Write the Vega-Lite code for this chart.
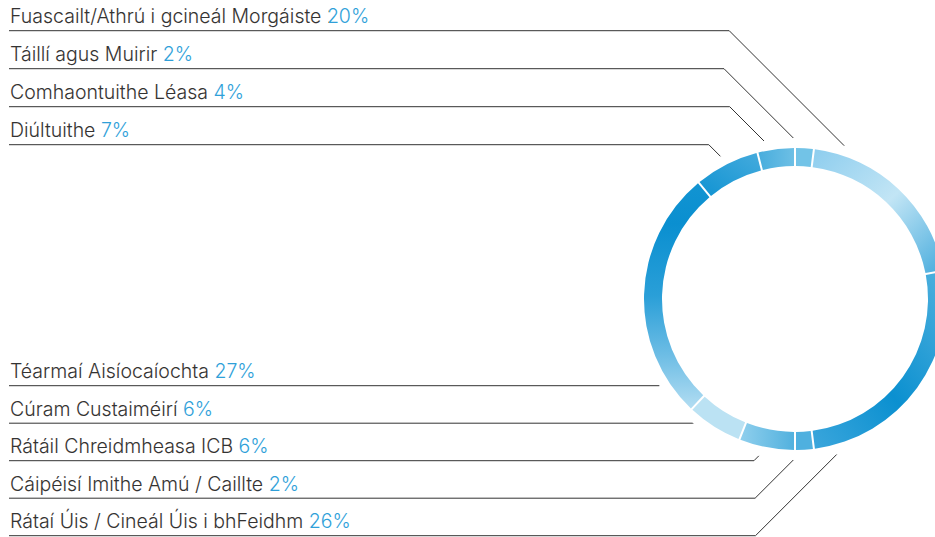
{
  "$schema": "https://vega.github.io/schema/vega-lite/v6.json",
  "width": 935,
  "height": 537,
  "autosize": {"type": "none"},
  "padding": 0,
  "background": "white",
  "config": {"view": {"stroke": null}},
  "data": {"values": [
    {"label": "Táillí agus Muirir", "pct": 2, "ring": 1, "row": 2, "anchor": 359.4},
    {"label": "Fuascailt/Athrú i gcineál Morgáiste", "pct": 20, "ring": 2, "row": 1, "anchor": 17.8},
    {"label": "Rátaí Úis / Cineál Úis i bhFeidhm", "pct": 26, "ring": 3, "row": 9, "anchor": 165},
    {"label": "Cáipéisí Imithe Amú / Caillte", "pct": 2, "ring": 4, "row": 8, "anchor": 180.6},
    {"label": "Rátáil Chreidmheasa ICB", "pct": 6, "ring": 5, "row": 7, "anchor": 193},
    {"label": "Cúram Custaiméirí", "pct": 6, "ring": 6, "row": 6, "anchor": 219.2},
    {"label": "Téarmaí Aisíocaíochta", "pct": 27, "ring": 7, "row": 5, "anchor": 237.4},
    {"label": "Diúltuithe", "pct": 7, "ring": 8, "row": 4, "anchor": 332.4},
    {"label": "Comhaontuithe Léasa", "pct": 4, "ring": 9, "row": 3, "anchor": 348.9}
  ]},
  "transform": [
    {"stack": "pct", "groupby": [], "sort": [{"field": "ring", "order": "ascending"}], "as": ["t0", "t1"]},
    {"calculate": "datum.label + ' ' + datum.pct + '%'", "as": "full"},
    {"calculate": "datum.row <= 4 ? 268.3 - 38 * (datum.row - 1) : -86.7 - 37.5 * (datum.row - 5)", "as": "ly"},
    {"calculate": "161 * sin(datum.anchor * PI / 180)", "as": "ex"},
    {"calculate": "161 * cos(datum.anchor * PI / 180)", "as": "ey"},
    {"calculate": "datum.ex - abs(datum.ly - datum.ey)", "as": "bx"}
  ],
  "layer": [
    {
      "transform": [{"filter": "datum.ring == 1"}],
      "mark": {"type": "arc", "outerRadius": 151, "innerRadius": 133, "padAngle": 0.01, "fill": "#72c3e7"},
      "encoding": {
        "x": {"datum": 0, "type": "quantitative", "scale": {"domain": [-795, 140], "nice": false, "zero": false}, "axis": null},
        "y": {"datum": 0, "type": "quantitative", "scale": {"domain": [-238, 299], "nice": false, "zero": false}, "axis": null},
        "theta": {"field": "t0", "type": "quantitative", "scale": {"domain": [0, 100]}},
        "theta2": {"field": "t1"}
      }
    },
    {
      "transform": [{"filter": "datum.ring == 2"}],
      "mark": {"type": "arc", "outerRadius": 151, "innerRadius": 133, "padAngle": 0.01,
        "fill": {"gradient": "linear", "x1": 0, "y1": 0, "x2": 1, "y2": 1,
          "stops": [{"offset": 0, "color": "#8dcdee"}, {"offset": 0.5, "color": "#c2e5f5"}, {"offset": 1, "color": "#48acdd"}]}},
      "encoding": {
        "x": {"datum": 0, "type": "quantitative", "scale": {"domain": [-795, 140], "nice": false, "zero": false}, "axis": null},
        "y": {"datum": 0, "type": "quantitative", "scale": {"domain": [-238, 299], "nice": false, "zero": false}, "axis": null},
        "theta": {"field": "t0", "type": "quantitative", "scale": {"domain": [0, 100]}},
        "theta2": {"field": "t1"}
      }
    },
    {
      "transform": [{"filter": "datum.ring == 3"}],
      "mark": {"type": "arc", "outerRadius": 151, "innerRadius": 133, "padAngle": 0.01,
        "fill": {"gradient": "linear", "x1": 1, "y1": 0, "x2": 0, "y2": 1,
          "stops": [{"offset": 0, "color": "#50b1de"}, {"offset": 0.55, "color": "#0b90d0"}, {"offset": 1, "color": "#3ba6dc"}]}},
      "encoding": {
        "x": {"datum": 0, "type": "quantitative", "scale": {"domain": [-795, 140], "nice": false, "zero": false}, "axis": null},
        "y": {"datum": 0, "type": "quantitative", "scale": {"domain": [-238, 299], "nice": false, "zero": false}, "axis": null},
        "theta": {"field": "t0", "type": "quantitative", "scale": {"domain": [0, 100]}},
        "theta2": {"field": "t1"}
      }
    },
    {
      "transform": [{"filter": "datum.ring == 4"}],
      "mark": {"type": "arc", "outerRadius": 151, "innerRadius": 133, "padAngle": 0.01, "fill": "#4fb0df"},
      "encoding": {
        "x": {"datum": 0, "type": "quantitative", "scale": {"domain": [-795, 140], "nice": false, "zero": false}, "axis": null},
        "y": {"datum": 0, "type": "quantitative", "scale": {"domain": [-238, 299], "nice": false, "zero": false}, "axis": null},
        "theta": {"field": "t0", "type": "quantitative", "scale": {"domain": [0, 100]}},
        "theta2": {"field": "t1"}
      }
    },
    {
      "transform": [{"filter": "datum.ring == 5"}],
      "mark": {"type": "arc", "outerRadius": 151, "innerRadius": 133, "padAngle": 0.01,
        "fill": {"gradient": "linear", "x1": 1, "y1": 0, "x2": 0, "y2": 0,
          "stops": [{"offset": 0, "color": "#52b1de"}, {"offset": 1, "color": "#8fcfed"}]}},
      "encoding": {
        "x": {"datum": 0, "type": "quantitative", "scale": {"domain": [-795, 140], "nice": false, "zero": false}, "axis": null},
        "y": {"datum": 0, "type": "quantitative", "scale": {"domain": [-238, 299], "nice": false, "zero": false}, "axis": null},
        "theta": {"field": "t0", "type": "quantitative", "scale": {"domain": [0, 100]}},
        "theta2": {"field": "t1"}
      }
    },
    {
      "transform": [{"filter": "datum.ring == 6"}],
      "mark": {"type": "arc", "outerRadius": 151, "innerRadius": 133, "padAngle": 0.01, "fill": "#bbe2f3"},
      "encoding": {
        "x": {"datum": 0, "type": "quantitative", "scale": {"domain": [-795, 140], "nice": false, "zero": false}, "axis": null},
        "y": {"datum": 0, "type": "quantitative", "scale": {"domain": [-238, 299], "nice": false, "zero": false}, "axis": null},
        "theta": {"field": "t0", "type": "quantitative", "scale": {"domain": [0, 100]}},
        "theta2": {"field": "t1"}
      }
    },
    {
      "transform": [{"filter": "datum.ring == 7"}],
      "mark": {"type": "arc", "outerRadius": 151, "innerRadius": 133, "padAngle": 0.01,
        "fill": {"gradient": "linear", "x1": 0, "y1": 1, "x2": 0, "y2": 0,
          "stops": [{"offset": 0, "color": "#b2ddf2"}, {"offset": 0.23, "color": "#6fbee5"}, {"offset": 0.5, "color": "#2a9fd8"}, {"offset": 0.82, "color": "#0a8fd0"}, {"offset": 1, "color": "#1294d2"}]}},
      "encoding": {
        "x": {"datum": 0, "type": "quantitative", "scale": {"domain": [-795, 140], "nice": false, "zero": false}, "axis": null},
        "y": {"datum": 0, "type": "quantitative", "scale": {"domain": [-238, 299], "nice": false, "zero": false}, "axis": null},
        "theta": {"field": "t0", "type": "quantitative", "scale": {"domain": [0, 100]}},
        "theta2": {"field": "t1"}
      }
    },
    {
      "transform": [{"filter": "datum.ring == 8"}],
      "mark": {"type": "arc", "outerRadius": 151, "innerRadius": 133, "padAngle": 0.01,
        "fill": {"gradient": "linear", "x1": 0, "y1": 1, "x2": 1, "y2": 0,
          "stops": [{"offset": 0, "color": "#1193d2"}, {"offset": 1, "color": "#45abdd"}]}},
      "encoding": {
        "x": {"datum": 0, "type": "quantitative", "scale": {"domain": [-795, 140], "nice": false, "zero": false}, "axis": null},
        "y": {"datum": 0, "type": "quantitative", "scale": {"domain": [-238, 299], "nice": false, "zero": false}, "axis": null},
        "theta": {"field": "t0", "type": "quantitative", "scale": {"domain": [0, 100]}},
        "theta2": {"field": "t1"}
      }
    },
    {
      "transform": [{"filter": "datum.ring == 9"}],
      "mark": {"type": "arc", "outerRadius": 151, "innerRadius": 133, "padAngle": 0.01,
        "fill": {"gradient": "linear", "x1": 0, "y1": 0, "x2": 1, "y2": 0,
          "stops": [{"offset": 0, "color": "#48addd"}, {"offset": 1, "color": "#6dbfe5"}]}},
      "encoding": {
        "x": {"datum": 0, "type": "quantitative", "scale": {"domain": [-795, 140], "nice": false, "zero": false}, "axis": null},
        "y": {"datum": 0, "type": "quantitative", "scale": {"domain": [-238, 299], "nice": false, "zero": false}, "axis": null},
        "theta": {"field": "t0", "type": "quantitative", "scale": {"domain": [0, 100]}},
        "theta2": {"field": "t1"}
      }
    },
    {
      "mark": {"type": "rule", "stroke": "#333333", "strokeWidth": 1},
      "encoding": {
        "x": {"field": "bx", "type": "quantitative", "scale": {"domain": [-795, 140], "nice": false, "zero": false}, "axis": null},
        "x2": {"datum": -786},
        "y": {"field": "ly", "type": "quantitative", "scale": {"domain": [-238, 299], "nice": false, "zero": false}, "axis": null}
      }
    },
    {
      "mark": {"type": "rule", "stroke": "#333333", "strokeWidth": 1},
      "encoding": {
        "x": {"field": "bx", "type": "quantitative", "scale": {"domain": [-795, 140], "nice": false, "zero": false}, "axis": null},
        "x2": {"field": "ex"},
        "y": {"field": "ly", "type": "quantitative", "scale": {"domain": [-238, 299], "nice": false, "zero": false}, "axis": null},
        "y2": {"field": "ey"}
      }
    },
    {
      "mark": {"type": "text", "font": "Inter", "fontSize": 19.5, "fontWeight": 300, "align": "left", "baseline": "alphabetic", "dy": -7.5},
      "encoding": {
        "x": {"datum": -785, "type": "quantitative", "scale": {"domain": [-795, 140], "nice": false, "zero": false}, "axis": null},
        "y": {"field": "ly", "type": "quantitative", "scale": {"domain": [-238, 299], "nice": false, "zero": false}, "axis": null},
        "text": {"field": "full"},
        "fill": {
          "condition": [
            {"test": "datum.row == 1", "value": {"gradient": "linear", "x1": 0, "y1": 0, "x2": 1, "y2": 0, "stops": [{"offset": 0, "color": "#333333"}, {"offset": 0.888, "color": "#333333"}, {"offset": 0.888, "color": "#2f9fd8"}, {"offset": 1, "color": "#2f9fd8"}]}},
            {"test": "datum.row == 2", "value": {"gradient": "linear", "x1": 0, "y1": 0, "x2": 1, "y2": 0, "stops": [{"offset": 0, "color": "#333333"}, {"offset": 0.836, "color": "#333333"}, {"offset": 0.836, "color": "#2f9fd8"}, {"offset": 1, "color": "#2f9fd8"}]}},
            {"test": "datum.row == 3", "value": {"gradient": "linear", "x1": 0, "y1": 0, "x2": 1, "y2": 0, "stops": [{"offset": 0, "color": "#333333"}, {"offset": 0.869, "color": "#333333"}, {"offset": 0.869, "color": "#2f9fd8"}, {"offset": 1, "color": "#2f9fd8"}]}},
            {"test": "datum.row == 4", "value": {"gradient": "linear", "x1": 0, "y1": 0, "x2": 1, "y2": 0, "stops": [{"offset": 0, "color": "#333333"}, {"offset": 0.746, "color": "#333333"}, {"offset": 0.746, "color": "#2f9fd8"}, {"offset": 1, "color": "#2f9fd8"}]}},
            {"test": "datum.row == 5", "value": {"gradient": "linear", "x1": 0, "y1": 0, "x2": 1, "y2": 0, "stops": [{"offset": 0, "color": "#333333"}, {"offset": 0.827, "color": "#333333"}, {"offset": 0.827, "color": "#2f9fd8"}, {"offset": 1, "color": "#2f9fd8"}]}},
            {"test": "datum.row == 6", "value": {"gradient": "linear", "x1": 0, "y1": 0, "x2": 1, "y2": 0, "stops": [{"offset": 0, "color": "#333333"}, {"offset": 0.845, "color": "#333333"}, {"offset": 0.845, "color": "#2f9fd8"}, {"offset": 1, "color": "#2f9fd8"}]}},
            {"test": "datum.row == 7", "value": {"gradient": "linear", "x1": 0, "y1": 0, "x2": 1, "y2": 0, "stops": [{"offset": 0, "color": "#333333"}, {"offset": 0.878, "color": "#333333"}, {"offset": 0.878, "color": "#2f9fd8"}, {"offset": 1, "color": "#2f9fd8"}]}},
            {"test": "datum.row == 8", "value": {"gradient": "linear", "x1": 0, "y1": 0, "x2": 1, "y2": 0, "stops": [{"offset": 0, "color": "#333333"}, {"offset": 0.896, "color": "#333333"}, {"offset": 0.896, "color": "#2f9fd8"}, {"offset": 1, "color": "#2f9fd8"}]}}
          ],
          "value": {"gradient": "linear", "x1": 0, "y1": 0, "x2": 1, "y2": 0, "stops": [{"offset": 0, "color": "#333333"}, {"offset": 0.879, "color": "#333333"}, {"offset": 0.879, "color": "#2f9fd8"}, {"offset": 1, "color": "#2f9fd8"}]}
        }
      }
    }
  ]
}
